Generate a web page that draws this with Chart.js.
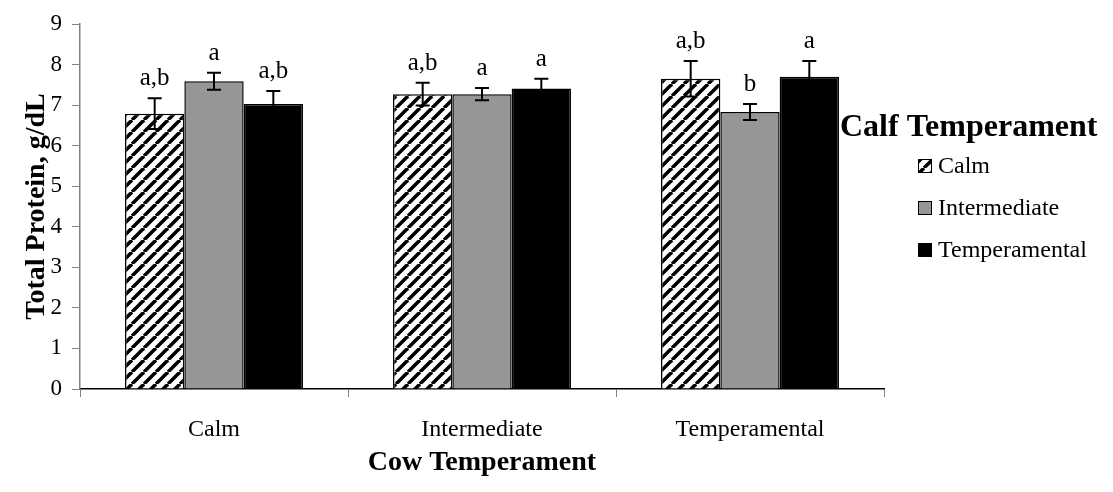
<!DOCTYPE html>
<html>
<head>
<meta charset="utf-8">
<script src="https://cdn.jsdelivr.net/npm/chart.js@4.4.0/dist/chart.umd.min.js"></script>
<style>
  html, body { margin: 0; padding: 0; background: #fff; }
  #wrap { width: 1113px; height: 492px; }
</style>
</head>
<body>
<div id="wrap"><canvas id="proteinChart" width="1113" height="492"></canvas></div>
<script>
// cow temperament groups on the x axis, calf temperament as the series
const cowGroups = ['Calm', 'Intermediate', 'Temperamental'];

const calmMeans = [6.79, 7.27, 7.65];
const calmErr = [0.38, 0.28, 0.44];
const calmLetters = ['a,b', 'a,b', 'a,b'];

const interMeans = [7.59, 7.27, 6.83];
const interErr = [0.21, 0.15, 0.20];
const interLetters = ['a', 'a', 'b'];

const tempMeans = [7.03, 7.41, 7.70];
const tempErr = [0.32, 0.24, 0.39];
const tempLetters = ['a,b', 'a', 'a'];

const yTicks = [0, 1, 2, 3, 4, 5, 6, 7, 8, 9];

const SERIF = "'Liberation Serif', 'Times New Roman', serif";

// black "/" stripes on white for the calm calves
function hatchPattern() {
  const size = 12;
  const c = document.createElement('canvas');
  c.width = size; c.height = size;
  const g = c.getContext('2d');
  g.fillStyle = '#fff';
  g.fillRect(0, 0, size, size);
  g.strokeStyle = '#000';
  g.lineWidth = 3.5;
  for (let k = -1; k <= 1; k++) {
    g.beginPath();
    g.moveTo(k * size, size);
    g.lineTo(k * size + size, 0);
    g.stroke();
  }
  return g.createPattern(c, 'repeat');
}

const hatch = hatchPattern();

// error bars + significance letters
const errorBars = {
  id: 'errorBars',
  afterDatasetsDraw(chart) {
    const ctx = chart.ctx;
    const y = chart.scales.y;
    ctx.save();
    chart.data.datasets.forEach((ds, i) => {
      const meta = chart.getDatasetMeta(i);
      meta.data.forEach((bar, j) => {
        const v = ds.data[j];
        const e = ds.errors[j];
        const top = y.getPixelForValue(v + e);
        const bot = y.getPixelForValue(v - e);
        ctx.strokeStyle = '#000';
        ctx.lineWidth = 2;
        ctx.beginPath();
        ctx.moveTo(bar.x, top); ctx.lineTo(bar.x, bot);
        ctx.moveTo(bar.x - 7, top); ctx.lineTo(bar.x + 7, top);
        ctx.moveTo(bar.x - 7, bot); ctx.lineTo(bar.x + 7, bot);
        ctx.stroke();

        ctx.fillStyle = '#000';
        ctx.font = '25px ' + SERIF;
        ctx.textAlign = 'center';
        ctx.textBaseline = 'alphabetic';
        ctx.fillText(ds.letters[j], bar.x, top - 13);
      });
    });
    ctx.restore();
  }
};

// legend sits to the right, its title running up against the last bar
const sideLegend = {
  id: 'sideLegend',
  afterDraw(chart) {
    const ctx = chart.ctx;
    ctx.save();
    ctx.fillStyle = '#000';
    ctx.font = 'bold 32px ' + SERIF;
    ctx.textAlign = 'left';
    ctx.textBaseline = 'alphabetic';
    ctx.fillText('Calf Temperament', 840, 136);

    ctx.font = '24px ' + SERIF;
    ctx.textBaseline = 'middle';
    chart.data.datasets.forEach((ds, i) => {
      const cy = 166 + i * 42;
      ctx.fillStyle = ds.backgroundColor;
      ctx.fillRect(918, cy - 7, 14, 14);
      ctx.strokeStyle = '#000';
      ctx.lineWidth = 1;
      ctx.strokeRect(918.5, cy - 6.5, 13, 13);
      ctx.fillStyle = '#000';
      ctx.fillText(ds.label, 938, cy + 1);
    });
    ctx.restore();
  }
};

const ctx = document.getElementById('proteinChart').getContext('2d');

new Chart(ctx, {
  type: 'bar',
  data: {
    labels: cowGroups,
    datasets: [
      { label: 'Calm', data: calmMeans, errors: calmErr, letters: calmLetters,
        backgroundColor: hatch, borderColor: '#000', borderWidth: 1.5 },
      { label: 'Intermediate', data: interMeans, errors: interErr, letters: interLetters,
        backgroundColor: '#969696', borderColor: '#000', borderWidth: 1.5 },
      { label: 'Temperamental', data: tempMeans, errors: tempErr, letters: tempLetters,
        backgroundColor: '#000', borderColor: '#000', borderWidth: 1.5 }
    ]
  },
  options: {
    responsive: false,
    animation: false,
    devicePixelRatio: 1,
    categoryPercentage: 0.664,
    barPercentage: 1.0,
    layout: { padding: { left: 0, right: 229, top: 24, bottom: 0 } },
    plugins: {
      legend: { display: false },
      tooltip: { enabled: false }
    },
    scales: {
      x: {
        offset: true,
        grid: { display: true, drawOnChartArea: false, offset: true, tickLength: 8, color: '#808080' },
        border: { color: '#000', width: 1.5 },
        ticks: { color: '#000', font: { family: SERIF, size: 24 }, padding: 18 },
        title: {
          display: true, text: 'Cow Temperament', color: '#000',
          font: { family: SERIF, size: 28, weight: 'bold' },
          padding: { top: 0, bottom: 12 }
        },
        afterFit: (s) => { s.height = 103; }
      },
      y: {
        min: yTicks[0],
        max: yTicks[yTicks.length - 1],
        afterBuildTicks: (s) => { s.ticks = yTicks.map(v => ({ value: v })); },
        grid: { drawOnChartArea: false, tickLength: 8, color: '#808080' },
        border: { color: '#808080', width: 1.5 },
        ticks: { color: '#000', font: { family: SERIF, size: 23 }, padding: 10 },
        title: {
          display: true, text: 'Total Protein, g/dL', color: '#000',
          font: { family: SERIF, size: 28, weight: 'bold' },
          padding: { top: 20, bottom: 0 }
        },
        afterFit: (s) => { s.width = 80; }
      }
    }
  },
  plugins: [errorBars, sideLegend]
});
</script>
</body>
</html>
